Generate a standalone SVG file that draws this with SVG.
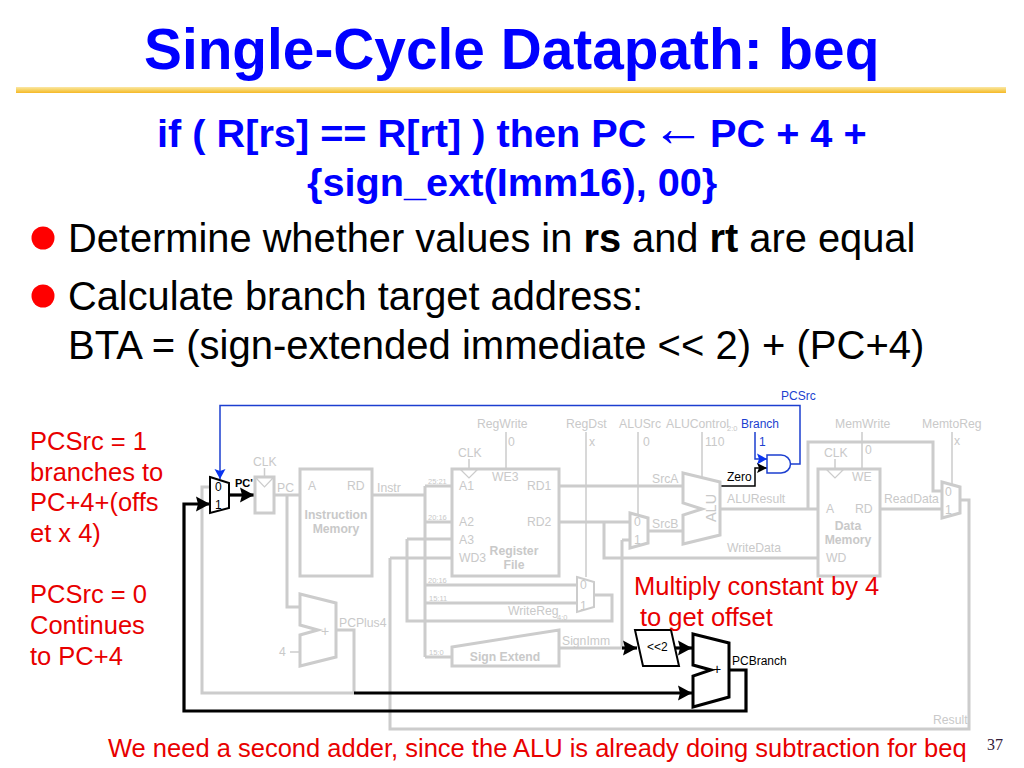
<svg xmlns="http://www.w3.org/2000/svg" width="1024" height="768" viewBox="0 0 1024 768">
<style>
text{font-family:"Liberation Sans",Arial,sans-serif}
.title{font-size:56.800px;font-weight:bold;fill:#0000ff}
.sub{font-size:39.700px;font-weight:bold;fill:#0000ff}
.arr{font-family:"Liberation Serif",serif;font-weight:normal;font-size:53px}
.body{font-size:39.800px;fill:#000}
.red{font-size:25.500px;fill:#e80000}
.g{font-size:12.200px;fill:#c9c9c9}
.gb{font-size:12.200px;font-weight:bold;fill:#c9c9c9;text-anchor:middle}
.tiny{font-size:7.500px;fill:#c9c9c9}
.k{font-size:12px;fill:#000}
.b{font-size:12px;fill:#1c3fd0}
.w{fill:none;stroke:#cccccc;stroke-width:3}
.t{fill:none;stroke:#cccccc;stroke-width:1.5}
.box{fill:#fff;stroke:#cccccc;stroke-width:3}
.clk{fill:#fff;stroke:#cccccc;stroke-width:1.2}
.kw{fill:none;stroke:#000;stroke-width:3.200}
.kn{fill:#fff;stroke:#000;stroke-width:3}
.bw{fill:none;stroke:#1c3fd0;stroke-width:1.500}
</style>
<defs>
<linearGradient id="bar" x1="0" y1="0" x2="0" y2="1"><stop offset="0" stop-color="#fbe7a6"/><stop offset="0.45" stop-color="#f7d468"/><stop offset="1" stop-color="#f6b826"/></linearGradient>
<marker id="ka" markerUnits="userSpaceOnUse" markerWidth="14" markerHeight="16" refX="14" refY="8" orient="auto"><path d="M0,0.500L14,8L0,15.500L2,8Z" fill="#000"/></marker>
<marker id="ks" markerUnits="userSpaceOnUse" markerWidth="10" markerHeight="10" refX="10" refY="5" orient="auto"><path d="M0,0L10,5L0,10L2,5Z" fill="#000"/></marker>
<marker id="ba" markerUnits="userSpaceOnUse" markerWidth="10" markerHeight="12" refX="10" refY="6" orient="auto"><path d="M0,0.5L10,6L0,11.5L2,6Z" fill="#0a35f0"/></marker>
</defs>
<rect width="1024" height="768" fill="#fff"/>
<g id="heading">
<text class="title" x="144" y="69">Single-Cycle Datapath: beq</text>
<rect x="16" y="87" width="990" height="6" fill="url(#bar)"/>
<text class="sub" x="157" y="146.500">if ( R[rs] == R[rt] ) then PC <tspan class="arr" x="652" dy="-1">←</tspan> <tspan x="710" dy="1">PC + 4 +</tspan></text>
<text class="sub" x="307" y="196">{sign_ext(Imm16), 00}</text>
<circle cx="43" cy="238" r="11.500" fill="#ff0000"/>
<text class="body" x="68" y="252">Determine whether values in <tspan font-weight="bold">rs</tspan> and <tspan font-weight="bold">rt</tspan> are equal</text>
<circle cx="43" cy="296" r="11.500" fill="#ff0000"/>
<text class="body" x="68" y="310">Calculate branch target address:</text>
<text class="body" x="68" y="359" style="font-size:40px">BTA = (sign-extended immediate &lt;&lt; 2) + (PC+4)</text>
</g>
<g id="connectors">
<path class="w" d="M274,495H300M287,495V607H300"/>
<path class="w" d="M210,487H202V693H354M336,630H354V693"/>
<path class="w" d="M372,495H425M425,486V657M425,486H452M425,522H452M407,539H452M407,539V621H612V595H594M390,558H452M390,558V729H969V500H960"/>
<path class="w" d="M425,585H577M425,603H577M425,657H452"/>
<path class="w" d="M559,486H683M559,522H630M604,522V558H818M622,540H630M622,540V648M559,648H622M648,531H683"/>
<path class="w" d="M720,509H818M808,509V442H933V491H942M880,509H942"/>
<path class="t" d="M506,432V469M586,432V577M638,432V515M702,432V477M862,432V469M952,432V485M264.500,468V477M469,459V469M835,459V469"/>
<path class="t" d="M290,652H300"/>
<path class="bw" d="M791,464H800V405.500H220V479" marker-end="url(#ba)"/>
<path class="bw" d="M755,432V459H767" marker-end="url(#ba)"/>
<path d="M720,486H755V468H767" fill="none" stroke="#000" stroke-width="1.500" marker-end="url(#ks)"/>
<path class="kw" d="M229,495H254" marker-end="url(#ka)"/>
<path class="kw" d="M729,670H746V711H184V504H210" marker-end="url(#ka)"/>
<path class="kw" d="M354,693H692" marker-end="url(#ka)"/>
<path class="kw" d="M622,648H637" marker-end="url(#ka)"/>
<path class="kw" d="M675,648H692" marker-end="url(#ka)"/>
</g>
<g id="pc-mux">
<path d="M210,477L229,483V508L210,513Z" fill="#fff" stroke="#000" stroke-width="2"/>
<text class="k" x="215" y="491">0</text><text class="k" x="215" y="509">1</text>
</g>
<g id="pc-register">
<rect class="box" x="255" y="477" width="19" height="36"/>
<path class="clk" d="M256,478H273L264.500,487Z"/>
<text class="g" x="253" y="466">CLK</text><text class="g" x="277" y="492">PC</text>
<text class="k" x="235" y="487" style="font-size:11px;font-weight:bold">PC'</text>
</g>
<g id="instruction-memory">
<rect class="box" x="300" y="469" width="72" height="107"/>
<text class="g" x="308" y="490">A</text><text class="g" x="347" y="490">RD</text>
<text class="gb" x="336" y="519">Instruction</text><text class="gb" x="336" y="533">Memory</text>
<text class="g" x="377" y="492">Instr</text>
</g>
<g id="register-file">
<rect class="box" x="452" y="469" width="107" height="107"/>
<path class="clk" d="M461,470H477L469,478Z"/>
<text class="g" x="458" y="457">CLK</text>
<text class="g" x="492" y="481">WE3</text><text class="g" x="459" y="490">A1</text><text class="g" x="459" y="526">A2</text><text class="g" x="459" y="544">A3</text><text class="g" x="459" y="562">WD3</text>
<text class="g" x="527" y="490">RD1</text><text class="g" x="527" y="526">RD2</text>
<text class="gb" x="514" y="555">Register</text><text class="gb" x="514" y="569">File</text>
<text class="tiny" x="428" y="484">25:21</text><text class="tiny" x="428" y="520">20:16</text><text class="tiny" x="428" y="583">20:16</text><text class="tiny" x="429" y="601">15:11</text><text class="tiny" x="429" y="655">15:0</text>
</g>
<g id="writereg-mux">
<path class="box" style="stroke-width:2" d="M577,577L594,582V607L577,612Z"/>
<text class="g" x="580" y="589">0</text><text class="g" x="580" y="610">1</text>
<text class="g" x="508" y="615">WriteReg</text><text class="tiny" x="557" y="620">4:0</text>
</g>
<g id="sign-extend">
<path class="box" d="M452,647L559,630V666H452Z"/>
<text class="gb" x="505" y="661">Sign Extend</text>
<text class="g" x="562" y="645">SignImm</text>
</g>
<g id="srcb-mux">
<path class="box" d="M630,513L648,518V543L630,548Z"/>
<text class="g" x="634" y="526">0</text><text class="g" x="634" y="544">1</text>
<text class="g" x="652" y="483">SrcA</text><text class="g" x="652" y="528">SrcB</text>
</g>
<g id="alu">
<path class="box" d="M683,473L720,482V535L683,544V515L702,509L683,503Z"/>
<text class="g" text-anchor="middle" transform="translate(716,508) rotate(-90)" style="font-size:14.500px">ALU</text>
<text class="k" x="727" y="481">Zero</text>
<text class="g" x="727" y="503">ALUResult</text><text class="g" x="727" y="552">WriteData</text>
</g>
<g id="branch-and">
<path d="M767,455H781A9.500,9 0 0 1 781,473H767Z" fill="#fff" stroke="#1c3fd0" stroke-width="1.500"/>
</g>
<g id="data-memory">
<rect class="box" x="818" y="469" width="62" height="107"/>
<path class="clk" d="M827,470H843L835,478Z"/>
<text class="g" x="824" y="457">CLK</text>
<text class="g" x="852" y="481">WE</text><text class="g" x="826" y="513">A</text><text class="g" x="855" y="513">RD</text><text class="g" x="826" y="562">WD</text>
<text class="gb" x="848" y="530">Data</text><text class="gb" x="848" y="544">Memory</text>
<text class="g" x="884" y="503">ReadData</text>
</g>
<g id="memtoreg-mux">
<path class="box" d="M942,482L960,487V513L942,518Z"/>
<text class="g" x="945" y="496">0</text><text class="g" x="945" y="514">1</text>
</g>
<g id="pc-adder">
<path class="box" d="M300,594L336,603V657L300,666V635L318,630L300,625Z"/>
<text class="g" x="321" y="636" style="font-size:14px">+</text>
<text class="g" x="279" y="656">4</text><text class="g" x="339" y="627">PCPlus4</text>
</g>
<g id="shift-left">
<path class="kn" d="M635,630H671L679,666H643Z" style="stroke-width:2"/>
<text class="k" x="647" y="651">&lt;&lt;2</text>
</g>
<g id="branch-adder">
<path class="kn" d="M693,634L729,643V697L693,707V676L711,670L693,665Z"/>
<text class="k" x="713" y="674" style="font-size:14px">+</text>
<text class="k" x="732" y="665">PCBranch</text>
</g>
<g id="control-labels">
<text class="g" x="477" y="428">RegWrite</text><text class="g" x="508" y="446">0</text>
<text class="g" x="566" y="428">RegDst</text><text class="g" x="589" y="446">x</text>
<text class="g" x="619" y="428">ALUSrc</text><text class="g" x="643" y="446">0</text>
<text class="g" x="666" y="428">ALUControl</text><text class="tiny" x="727" y="431">2:0</text><text class="g" x="705" y="446">110</text>
<text class="b" x="741" y="428">Branch</text><text class="b" x="759" y="446">1</text>
<text class="b" x="781" y="400">PCSrc</text>
<text class="g" x="835" y="428">MemWrite</text><text class="g" x="865" y="454">0</text>
<text class="g" x="922" y="428">MemtoReg</text><text class="g" x="954" y="445">x</text>
<text class="g" x="933" y="724">Result</text>
</g>
<g id="annotations">
<text class="red" x="30" y="450">PCSrc = 1</text>
<text class="red" x="30" y="481">branches to</text>
<text class="red" x="30" y="511">PC+4+(offs</text>
<text class="red" x="30" y="542">et x 4)</text>
<text class="red" x="30" y="603">PCSrc = 0</text>
<text class="red" x="30" y="634">Continues</text>
<text class="red" x="30" y="665">to PC+4</text>
<text class="red" x="634" y="595">Multiply constant by 4</text>
<text class="red" x="640" y="626">to get offset</text>
<text class="red" x="108" y="757">We need a second adder, since the ALU is already doing subtraction for beq</text>
<text x="987" y="750" style="font-family:'Liberation Serif',serif;font-size:16px;fill:#33203a">37</text>
</g>
</svg>
